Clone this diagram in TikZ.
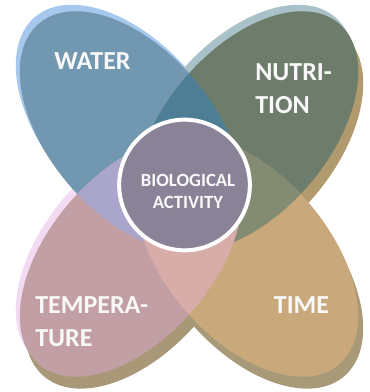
\documentclass[tikz,border=0pt]{standalone}
\usepackage{fontspec}
\setmainfont{Carlito}
\usetikzlibrary{positioning}

\definecolor{waterfill}{HTML}{7297B0}
\definecolor{waterlight}{HTML}{A6C8EC}
\definecolor{nutrifill}{HTML}{6E7C6C}
\definecolor{nutrilight}{HTML}{A9C1C8}
\definecolor{nutridark}{HTML}{B09A6E}
\definecolor{tempfill}{HTML}{C29FA4}
\definecolor{templight}{HTML}{F3DAF3}
\definecolor{tempdark}{HTML}{A89878}
\definecolor{timefill}{HTML}{C9A87B}
\definecolor{timedark}{HTML}{A89A78}
\definecolor{waternutri}{HTML}{4E7E96}
\definecolor{watertemp}{HTML}{AAA6CB}
\definecolor{temptime}{HTML}{D8ACA8}
\definecolor{nutritime}{HTML}{838B72}
\definecolor{biofill}{HTML}{8A8398}
\definecolor{labelwhite}{HTML}{F8F8F8}

\begin{document}
\begin{tikzpicture}[x=0.75pt, y=0.75pt,
    waterpetal/.style={rotate around={-45:(-58,58)}},
    nutripetal/.style={rotate around={45:(58,58)}},
    temppetal/.style={rotate around={45:(-58,-58)}},
    timepetal/.style={rotate around={-45:(58,-58)}},
    lightedge/.style={shift={(-4,6)}},
    darkedge/.style={shift={(5,-11)}},
    petallabel/.style={text=labelwhite, inner sep=0pt, align=left,
      font=\fontsize{19.5}{24.75}\selectfont\bfseries},
    biolabel/.style={text=labelwhite, inner sep=0pt, align=center,
      font=\fontsize{14}{16.5}\selectfont\bfseries}]
  \useasboundingbox (0,0) rectangle (370,392);

  \begin{scope}[shift={(189,198)}, yscale=1.08]
    % rims
    \fill[waterlight, lightedge, waterpetal] (-58,58) ellipse (136 and 79);
    \fill[nutrilight, lightedge, nutripetal] (58,58) ellipse (136 and 79);
    \fill[templight, lightedge, temppetal] (-58,-58) ellipse (136 and 79);
    \fill[nutridark, darkedge, nutripetal] (58,58) ellipse (136 and 79);
    \fill[tempdark, darkedge, temppetal] (-58,-58) ellipse (136 and 79);
    \fill[timedark, darkedge, timepetal] (58,-58) ellipse (136 and 79);
    % petals
    \fill[waterfill, waterpetal] (-58,58) ellipse (136 and 79);
    \fill[nutrifill, nutripetal] (58,58) ellipse (136 and 79);
    \fill[tempfill, temppetal] (-58,-58) ellipse (136 and 79);
    \fill[timefill, timepetal] (58,-58) ellipse (136 and 79);
    % overlaps
    \begin{scope}
      \clip[waterpetal] (-58,58) ellipse (136 and 79);
      \fill[waternutri, nutripetal] (58,58) ellipse (136 and 79);
      \fill[watertemp, temppetal] (-58,-58) ellipse (136 and 79);
    \end{scope}
    \begin{scope}
      \clip[timepetal] (58,-58) ellipse (136 and 79);
      \fill[nutritime, nutripetal] (58,58) ellipse (136 and 79);
      \fill[temptime, temppetal] (-58,-58) ellipse (136 and 79);
    \end{scope}
  \end{scope}

  \node[circle, fill=biofill, draw=white, line width=3pt, minimum size=98pt,
    inner sep=0pt] (bio) at (184.5,207) {};
  \node[biolabel] (biotext) at ([shift={(3.5,-6)}]bio.center) {BIOLOGICAL\\ACTIVITY};

  \node[petallabel] (water) at (92.5,331) {WATER};
  \node[petallabel, anchor=west] (nutrition) at (255,303.5) {NUTRI-\\TION};
  \node[petallabel, anchor=west] (temperature) at (35,70.5) {TEMPERA-\\TURE};
  \node[petallabel] (time) at (301.5,86.5) {TIME};
\end{tikzpicture}
\end{document}
